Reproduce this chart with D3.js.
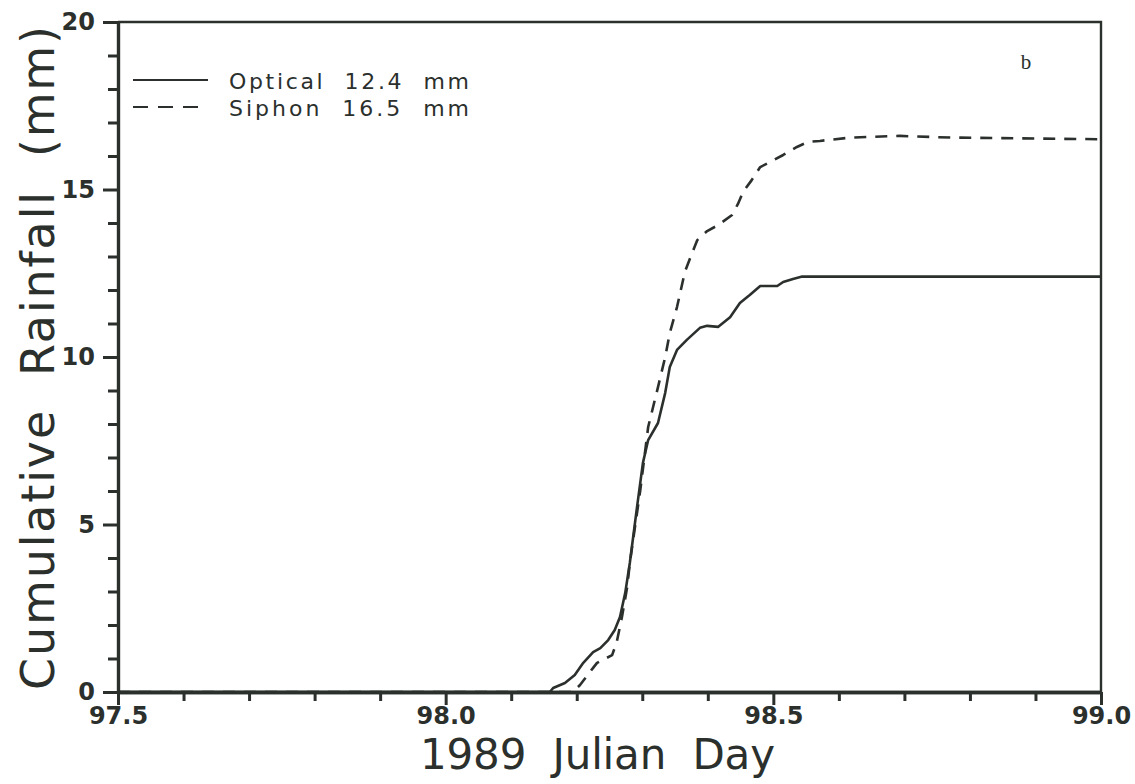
<!DOCTYPE html>
<html>
<head>
<meta charset="utf-8">
<script src="https://cdn.jsdelivr.net/npm/d3@7"></script>
<style>
  html, body { margin: 0; padding: 0; background: #ffffff; }
  svg { display: block; }
  text { fill: #2b302d; }
</style>
</head>
<body>
<script>
// Cumulative rainfall, 1989 Julian day 97.5 – 99.0
const opticalDay = [97.5, 98.159, 98.164, 98.182, 98.197, 98.210, 98.225, 98.236, 98.248, 98.258, 98.266, 98.274, 98.281, 98.292, 98.301, 98.309, 98.324, 98.335, 98.342, 98.353, 98.368, 98.388, 98.399, 98.416, 98.434, 98.449, 98.464, 98.480, 98.506, 98.515, 98.530, 98.544, 98.571, 99.0];
const opticalMm  = [0, 0, 0.12, 0.27, 0.51, 0.87, 1.19, 1.31, 1.55, 1.85, 2.24, 2.96, 3.85, 5.52, 6.84, 7.52, 8.03, 8.93, 9.70, 10.21, 10.51, 10.87, 10.93, 10.90, 11.19, 11.61, 11.85, 12.12, 12.12, 12.24, 12.33, 12.4, 12.4, 12.4];

const siphonDay = [97.5, 98.194, 98.205, 98.225, 98.231, 98.254, 98.261, 98.269, 98.277, 98.281, 98.297, 98.309, 98.324, 98.335, 98.342, 98.353, 98.365, 98.376, 98.384, 98.399, 98.416, 98.437, 98.446, 98.454, 98.467, 98.480, 98.495, 98.515, 98.536, 98.553, 98.571, 98.617, 98.693, 98.770, 99.0];
const siphonMm  = [0, 0, 0.21, 0.72, 0.87, 1.10, 1.49, 2.24, 3.13, 3.85, 6.03, 7.91, 9.10, 10.0, 10.72, 11.49, 12.54, 13.10, 13.49, 13.76, 13.94, 14.24, 14.57, 14.93, 15.28, 15.67, 15.82, 16.03, 16.27, 16.42, 16.45, 16.55, 16.6, 16.55, 16.5];

const seriesNames = ["Optical", "Siphon"];
const seriesTotals = ["12.4", "16.5"];

const xMajorTicks = [97.5, 98.0, 98.5, 99.0];
const xMinorTicks = [97.6, 97.7, 97.8, 97.9, 98.1, 98.2, 98.3, 98.4, 98.6, 98.7, 98.8, 98.9];
const yMajorTicks = [0, 5, 10, 15, 20];
const yMinorTicks = [1, 2, 3, 4, 6, 7, 8, 9, 11, 12, 13, 14, 16, 17, 18, 19];

const W = 1135, H = 784;
const margin = { left: 118, right: 34, top: 22, bottom: 92 };
const ink = "#2b302d";

const svg = d3.select("body").append("svg").attr("width", W).attr("height", H);
svg.append("rect").attr("width", W).attr("height", H).attr("fill", "#ffffff");

const x = d3.scaleLinear().domain([97.5, 99.0]).range([margin.left, W - margin.right]);
const y = d3.scaleLinear().domain([0, 20]).range([H - margin.bottom, margin.top]);

const x0 = x.range()[0], x1 = x.range()[1];
const y0 = y.range()[0], y1 = y.range()[1];

// Frame top and right edges
svg.append("path")
  .attr("d", `M${x0},${y1}H${x1}V${y0}`)
  .attr("fill", "none").attr("stroke", ink).attr("stroke-width", 2.4);

function styleAxis(g, width) {
  g.select(".domain").attr("stroke", ink).attr("stroke-width", width);
  g.selectAll(".tick line").attr("stroke", ink).attr("stroke-width", 3);
}

const tickFont = g => g.selectAll(".tick text")
  .attr("font-family", "'DejaVu Sans', sans-serif")
  .attr("font-weight", "bold").attr("font-size", 24).attr("fill", ink);

// X axis: minor then major ticks
svg.append("g").attr("transform", `translate(0,${y0})`)
  .call(d3.axisBottom(x).tickValues(xMinorTicks).tickSize(9).tickSizeOuter(0).tickFormat(""))
  .call(g => styleAxis(g, 3.4));
svg.append("g").attr("transform", `translate(0,${y0})`)
  .call(d3.axisBottom(x).tickValues(xMajorTicks).tickSize(13).tickSizeOuter(0).tickFormat(d3.format(".1f")).tickPadding(2))
  .call(g => styleAxis(g, 3.4))
  .call(tickFont);

// Y axis
svg.append("g").attr("transform", `translate(${x0},0)`)
  .call(d3.axisLeft(y).tickValues(yMinorTicks).tickSize(10).tickSizeOuter(0).tickFormat(""))
  .call(g => styleAxis(g, 3.2));
svg.append("g").attr("transform", `translate(${x0},0)`)
  .call(d3.axisLeft(y).tickValues(yMajorTicks).tickSize(15).tickSizeOuter(0).tickPadding(8))
  .call(g => styleAxis(g, 3.2))
  .call(tickFont);

// Curves
const line = d3.line().x(d => x(d[0])).y(d => y(d[1])).curve(d3.curveLinear);
const optical = opticalDay.map((d, i) => [d, opticalMm[i]]);
const siphon = siphonDay.map((d, i) => [d, siphonMm[i]]);

svg.append("path").datum(siphon).attr("d", line)
  .attr("fill", "none").attr("stroke", ink).attr("stroke-width", 2.6)
  .attr("stroke-dasharray", "12,9").attr("stroke-linejoin", "round");
svg.append("path").datum(optical).attr("d", line)
  .attr("fill", "none").attr("stroke", ink).attr("stroke-width", 2.6)
  .attr("stroke-linejoin", "round");

// Legend
const legend = svg.append("g");
const legendRows = [
  { dash: null, yPos: 80 },
  { dash: "15,10", yPos: 107 }
];
legendRows.forEach((r, i) => {
  legend.append("line").attr("x1", 133).attr("x2", 208).attr("y1", r.yPos).attr("y2", r.yPos)
    .attr("stroke", ink).attr("stroke-width", 2.2).attr("stroke-dasharray", r.dash);
  legend.append("text").attr("x", 229).attr("y", r.yPos + 9)
    .attr("font-family", "'DejaVu Sans', sans-serif").attr("font-size", 22)
    .attr("textLength", 240).attr("lengthAdjust", "spacing")
    .style("white-space", "pre")
    .text(`${seriesNames[i]}  ${seriesTotals[i]}  mm`);
});

// Panel letter
svg.append("text").attr("x", 1026).attr("y", 69).attr("text-anchor", "middle")
  .attr("font-family", "'Liberation Serif', serif").attr("font-size", 21).text("b");

// Axis titles
svg.append("text").attr("x", 420).attr("y", 769)
  .attr("font-family", "'DejaVu Sans', sans-serif").attr("font-size", 42)
  .attr("textLength", 355).attr("lengthAdjust", "spacing")
  .style("white-space", "pre")
  .text("1989  Julian  Day");

svg.append("text")
  .attr("transform", "translate(54,690) rotate(-90)")
  .attr("font-family", "'DejaVu Sans', sans-serif").attr("font-size", 46)
  .attr("textLength", 664).attr("lengthAdjust", "spacing")
  .style("white-space", "pre")
  .text("Cumulative  Rainfall  (mm)");
</script>
</body>
</html>
